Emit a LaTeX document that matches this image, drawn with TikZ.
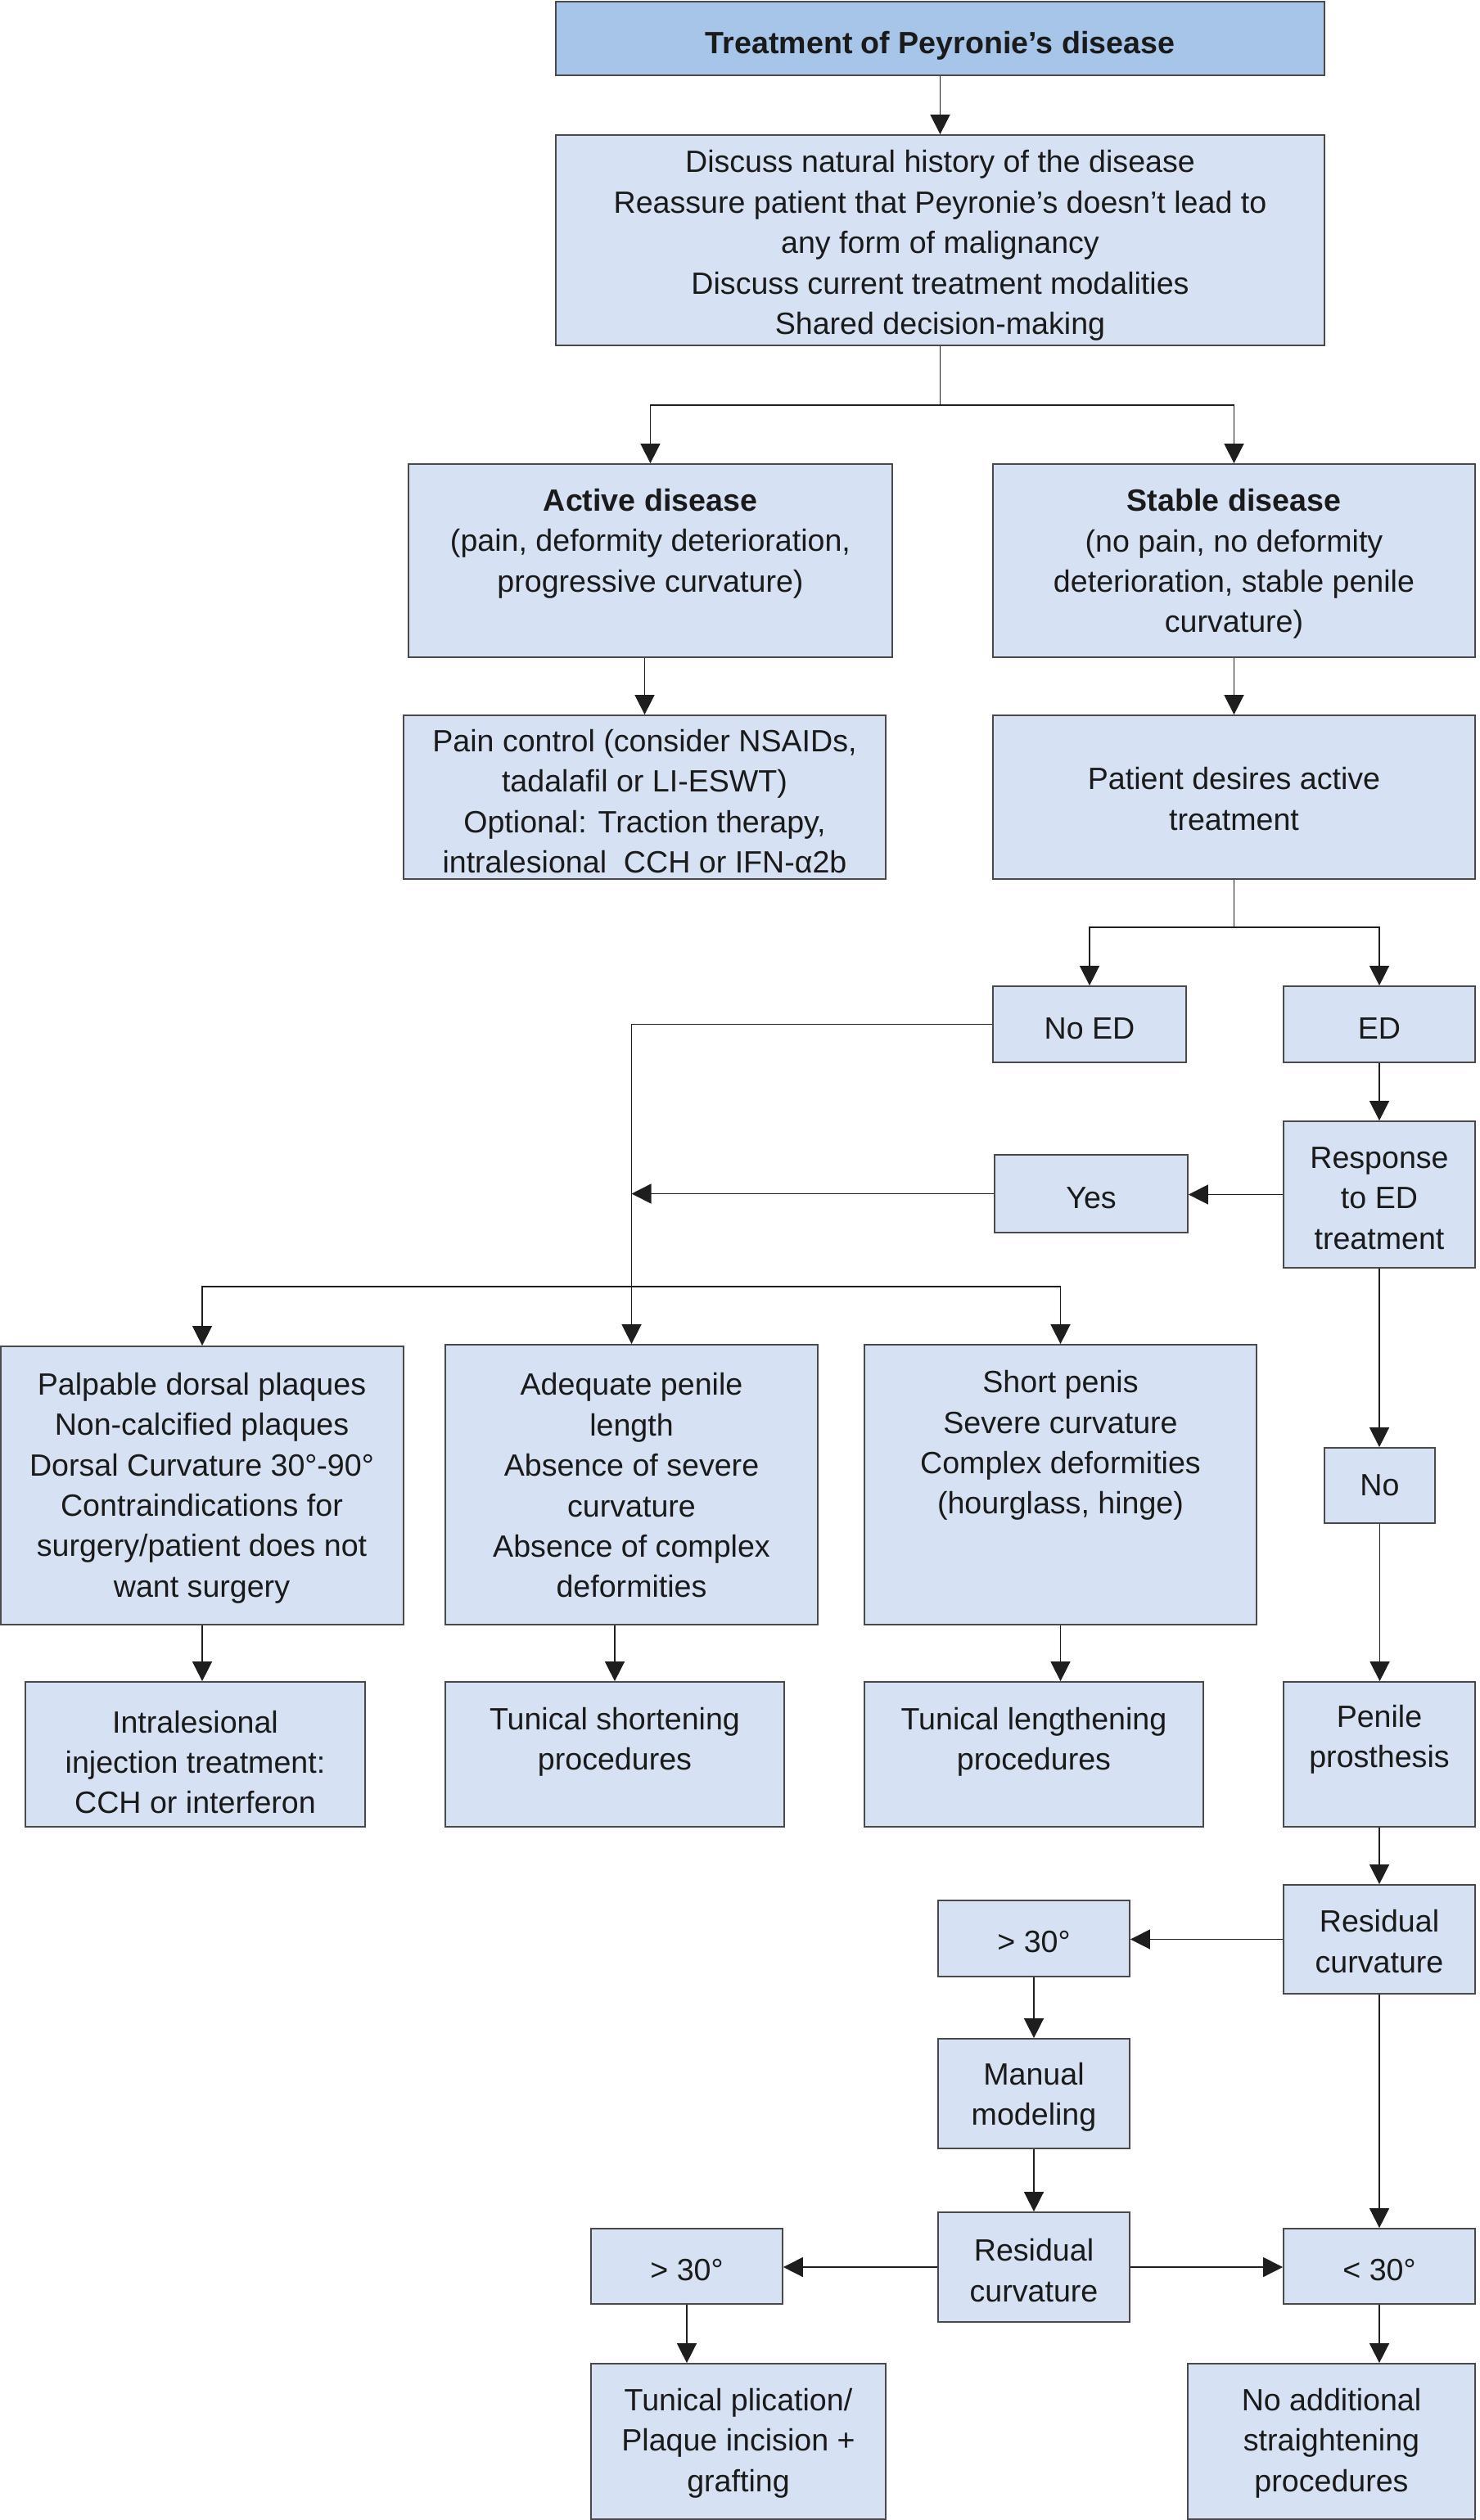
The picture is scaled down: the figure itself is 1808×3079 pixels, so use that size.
\documentclass[tikz,border=0pt]{standalone}
\usepackage{fontspec}
\setmainfont{Liberation Sans}
\usetikzlibrary{arrows.meta,fit,calc}
\definecolor{boxfill}{HTML}{D6E2F3}
\definecolor{titlefill}{HTML}{A7C5E9}
\definecolor{boxline}{HTML}{4A4A4A}
\definecolor{arrline}{HTML}{1E1E1E}
\definecolor{txtcol}{HTML}{1A1A1A}
\newcommand\myfs{\fontsize{18.8}{24.7}\selectfont}
\begin{document}
\begin{tikzpicture}[x=0.5pt,y=-0.5pt,
  box/.style={draw=boxline, fill=boxfill, line width=0.9pt, inner sep=0pt, rectangle},
  txt/.style={align=center, inner sep=0pt, font=\myfs, text=txtcol, yshift=-2.5pt},
  arr/.style={draw=arrline, line width=0.75pt, -{Triangle[length=12pt,width=12pt]}},
  ln/.style={draw=arrline, line width=0.75pt}]
\useasboundingbox (0,0) rectangle (1808,3079);

% boxes
\node[box, fill=titlefill, fit={(679,2) (1618,92)}] (title) {};
\node[box, fit={(679,165) (1618,422)}] (intro) {};
\node[box, fit={(499,567) (1090,803)}] (active) {};
\node[box, fit={(1213,567) (1802,803)}] (stable) {};
\node[box, fit={(493,874) (1082,1074)}] (pain) {};
\node[box, fit={(1213,874) (1802,1074)}] (patient) {};
\node[box, fit={(1213,1205) (1449,1298)}] (noed) {};
\node[box, fit={(1568,1205) (1802,1298)}] (ed) {};
\node[box, fit={(1215,1411) (1451,1506)}] (yes) {};
\node[box, fit={(1568,1370) (1802,1549)}] (resp) {};
\node[box, fit={(1,1645) (493,1985)}] (palp) {};
\node[box, fit={(544,1643) (999,1985)}] (adeq) {};
\node[box, fit={(1056,1643) (1535,1985)}] (short) {};
\node[box, fit={(31,2055) (446,2232)}] (intra) {};
\node[box, fit={(544,2055) (958,2232)}] (tshort) {};
\node[box, fit={(1056,2055) (1470,2232)}] (tlen) {};
\node[box, fit={(1618,1769) (1753,1861)}] (no) {};
\node[box, fit={(1568,2055) (1802,2232)}] (pros) {};
\node[box, fit={(1568,2303) (1802,2436)}] (res1) {};
\node[box, fit={(1146,2322) (1380,2415)}] (gt1) {};
\node[box, fit={(1146,2491) (1380,2625)}] (man) {};
\node[box, fit={(1146,2703) (1380,2837)}] (res2) {};
\node[box, fit={(1568,2723) (1802,2815)}] (lt) {};
\node[box, fit={(722,2723) (956,2815)}] (gt2) {};
\node[box, fit={(722,2888) (1082,3078)}] (tpl) {};
\node[box, fit={(1451,2888) (1802,3078)}] (noadd) {};

% texts
\node[txt, font=\myfs\bfseries] (title-t) at (1148.5,51) {Treatment of Peyronie’s disease};
\node[txt] (intro-t) at (1148.5,295) {Discuss natural history of the disease\\Reassure patient that Peyronie’s doesn’t lead to\\any form of malignancy\\Discuss current treatment modalities\\Shared decision-making};
\node[txt] (active-t) at (794.5,659) {{\bfseries Active disease}\\(pain, deformity deterioration,\\progressive curvature)};
\node[txt] (stable-t) at (1507.5,684) {{\bfseries Stable disease}\\(no pain, no deformity\\deterioration, stable penile\\curvature)};
\node[txt] (pain-t) at (787.5,974) {Pain control (consider NSAIDs,\\tadalafil or LI-ESWT)\\Optional: Traction therapy,\\intralesional~ CCH or IFN-α2b};
\node[txt] (patient-t) at (1507.5,971) {Patient desires active\\treatment};
\node[txt] (noed-t) at (1331,1252) {No ED};
\node[txt] (ed-t) at (1685,1252) {ED};
\node[txt] (yes-t) at (1333,1459) {Yes};
\node[txt] (resp-t) at (1685,1459) {Response\\to ED\\treatment};
\node[txt] (palp-t) at (246.5,1813) {Palpable dorsal plaques\\Non-calcified plaques\\Dorsal Curvature 30°-90°\\Contraindications for\\surgery/patient does not\\want surgery};
\node[txt] (adeq-t) at (771.5,1810) {Adequate penile\\length\\Absence of severe\\curvature\\Absence of complex\\deformities};
\node[txt] (short-t) at (1295.5,1761) {Short penis\\Severe curvature\\Complex deformities\\(hourglass, hinge)};
\node[txt] (intra-t) at (238.5,2148) {Intralesional\\injection treatment:\\CCH or interferon};
\node[txt] (tshort-t) at (751,2123) {Tunical shortening\\procedures};
\node[txt] (tlen-t) at (1263,2123) {Tunical lengthening\\procedures};
\node[txt, yshift=2.5pt] (no-t) at (1685.5,1815) {No};
\node[txt] (pros-t) at (1685,2120) {Penile\\prosthesis};
\node[txt] (res1-t) at (1685,2367) {Residual\\curvature};
\node[txt] (gt1-t) at (1263,2368) {> 30°};
\node[txt] (man-t) at (1263,2557) {Manual\\modeling};
\node[txt] (res2-t) at (1263,2769) {Residual\\curvature};
\node[txt] (lt-t) at (1685,2769) {< 30°};
\node[txt] (gt2-t) at (839,2769) {> 30°};
\node[txt] (tpl-t) at (902,2980) {Tunical plication/\\Plaque incision +\\grafting};
\node[txt] (noadd-t) at (1626.5,2980) {No additional\\straightening\\procedures};

% junctions
\coordinate (j1) at (1148.5,495);
\coordinate (j2) at (1507.5,1133);
\coordinate (j4) at (771.5,1572);

% connectors
\draw[arr] (title.south) -- (intro.north);
\draw[ln] (intro.south) -- (j1);
\draw[arr] (j1) -| (active.north);
\draw[arr] (j1) -| (stable.north);
\draw[arr] (active.south -| pain.north) -- (pain.north);
\draw[arr] (stable.south) -- (patient.north);
\draw[ln] (patient.south) -- (j2);
\draw[arr] (j2) -| (noed.north);
\draw[arr] (j2) -| (ed.north);
\draw[arr] (noed.west) -- (noed.west -| adeq.north) -- (adeq.north);
\draw[arr] (j4) -| (palp.north);
\draw[arr] (j4) -| (short.north);
\draw[arr] (yes.west) -- (yes.west -| adeq.north);
\draw[arr] (ed.south) -- (resp.north);
\draw[arr] (resp.west) -- (resp.west -| yes.east);
\draw[arr] (resp.south) -- (resp.south |- no.north);
\draw[arr] (no.south) -- (no.south |- pros.north);
\draw[arr] (pros.south) -- (res1.north);
\draw[arr] (res1.west) -- (res1.west -| gt1.east);
\draw[arr] (gt1.south) -- (man.north);
\draw[arr] (man.south) -- (res2.north);
\draw[arr] (res1.south) -- (lt.north);
\draw[arr] (res2.east) -- (res2.east -| lt.west);
\draw[arr] (res2.west) -- (res2.west -| gt2.east);
\draw[arr] (gt2.south) -- (gt2.south |- tpl.north);
\draw[arr] (lt.south) -- (lt.south |- noadd.north);
\draw[arr] (palp.south) -- (palp.south |- intra.north);
\draw[arr] (tshort.north |- adeq.south) -- (tshort.north);
\draw[arr] (short.south) -- (short.south |- tlen.north);
\end{tikzpicture}
\end{document}
